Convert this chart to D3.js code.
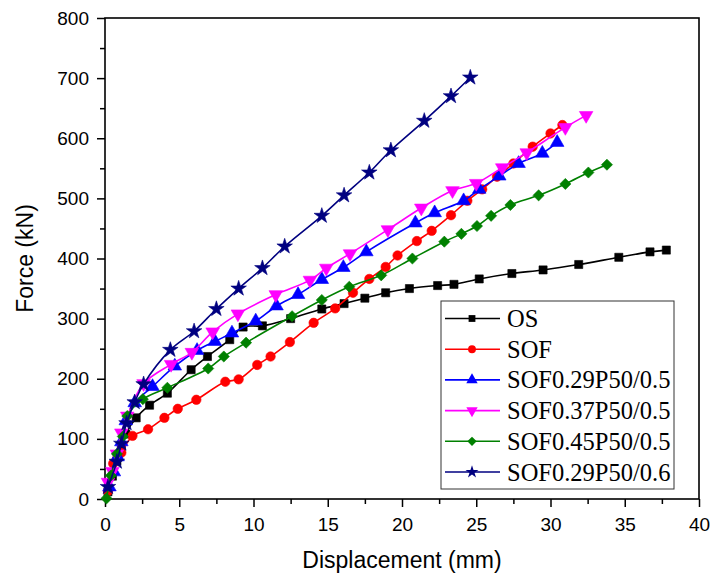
<!DOCTYPE html>
<html>
<head>
<meta charset="utf-8">
<script src="https://cdn.jsdelivr.net/npm/d3@7"></script>
<style>
  body { margin: 0; background: #fff; }
  svg { display: block; }
</style>
</head>
<body>
<svg></svg>
<script>
var svgWidth = 712, svgHeight = 575;

// data: displacement (mm) and force (kN) per specimen
var osDisp = [0.2, 0.5, 0.8, 1.1, 1.4, 2.1, 3.0, 4.2, 5.8, 6.9, 8.4, 9.3, 10.6, 12.5, 14.6, 16.1, 17.5, 18.9, 20.5, 22.4, 23.5, 25.2, 27.4, 29.5, 31.9, 34.6, 36.7, 37.8];
var osForce = [12, 38, 63, 88, 108, 135, 156, 176, 215, 237, 265, 286, 288, 300, 316, 325, 334, 343, 350, 355, 357, 366, 375, 381, 390, 402, 411, 414];

var sofDisp = [0.2, 0.55, 0.85, 1.1, 1.85, 2.9, 4.0, 4.9, 6.15, 8.1, 9.0, 10.25, 11.15, 12.45, 14.05, 15.5, 16.7, 17.8, 18.9, 19.7, 21.0, 22.0, 23.3, 24.4, 25.4, 26.4, 27.5, 28.8, 30.0, 30.8];
var sofForce = [13, 59, 70, 77, 105, 116, 135, 150, 165, 195, 199, 223, 237, 261, 293, 317, 343, 366, 386, 405, 429, 446, 472, 496, 515, 536, 558, 586, 608, 622];

var s029Disp = [0.3, 0.6, 0.85, 1.1, 1.4, 2.0, 3.2, 4.7, 6.2, 7.4, 8.55, 10.15, 11.55, 13.0, 14.6, 16.05, 17.6, 20.9, 22.2, 24.15, 25.2, 26.55, 27.85, 29.45, 30.45];
var s029Force = [20, 45, 70, 95, 130, 160, 187, 221, 247, 262, 276, 296, 321, 340, 365, 385, 411, 459, 476, 496, 515, 537, 558, 575, 593];

var s037Disp = [0.2, 0.5, 0.8, 1.1, 1.5, 2.6, 4.45, 5.85, 7.25, 8.95, 11.5, 13.8, 14.9, 16.5, 19.05, 21.3, 23.4, 25.0, 26.75, 28.4, 31.0, 32.4];
var s037Force = [28, 46, 75, 110, 138, 192, 224, 244, 278, 308, 340, 364, 384, 408, 448, 484, 513, 525, 551, 576, 618, 638];

var s045Disp = [0.1, 0.4, 0.8, 1.2, 1.5, 2.55, 4.2, 6.95, 8.0, 9.5, 12.6, 14.6, 16.45, 18.6, 20.7, 22.85, 24.0, 25.05, 26.0, 27.3, 29.2, 31.0, 32.55, 33.8];
var s045Force = [1, 39, 75, 104, 138, 166, 185, 217, 237, 260, 304, 331, 353, 372, 400, 428, 441, 454, 471, 489, 505, 524, 543, 556];

var s06Disp = [0.2, 0.8, 1.1, 1.45, 2.0, 2.6, 4.4, 6.0, 7.5, 9.0, 10.6, 12.1, 14.6, 16.1, 17.8, 19.25, 21.5, 23.3, 24.6];
var s06Force = [20, 62, 92, 126, 161, 191, 248, 279, 316, 350, 384, 420, 471, 505, 543, 580, 629, 670, 701];

var seriesNames = ["OS", "SOF", "SOF0.29P50/0.5", "SOF0.37P50/0.5", "SOF0.45P50/0.5", "SOF0.29P50/0.6"];
var seriesColors = ["#000000", "#ff0000", "#0000ff", "#ff00ff", "#008000", "#000080"];

var xTicks = [0, 5, 10, 15, 20, 25, 30, 35, 40];
var yTicks = [0, 100, 200, 300, 400, 500, 600, 700, 800];

var margin = {top: 18, right: 13, bottom: 76, left: 105};
var width = svgWidth - margin.left - margin.right,
    height = svgHeight - margin.top - margin.bottom;

var svg = d3.select("svg")
            .attr("width", svgWidth)
            .attr("height", svgHeight);

var g = svg.append("g")
           .attr("transform", "translate(" + margin.left + "," + margin.top + ")");

var x = d3.scaleLinear().domain([0, 40]).range([0, width]);
var y = d3.scaleLinear().domain([0, 800]).range([height, 0]);

// symbols for each series
var symbols = [
    {type: d3.symbolSquare, size: 66, rotate: 0},
    {type: d3.symbolCircle, size: 70, rotate: 0},
    {type: d3.symbolTriangle, size: 80, rotate: 0},
    {type: d3.symbolTriangle, size: 80, rotate: 180},
    {type: d3.symbolSquare, size: 62, rotate: 45},
    {type: d3.symbolStar, size: 75, rotate: 0}
];

var allData = [
    [osDisp, osForce], [sofDisp, sofForce], [s029Disp, s029Force],
    [s037Disp, s037Force], [s045Disp, s045Force], [s06Disp, s06Force]
].map(function(pair, i) {
    return {
        name: seriesNames[i],
        color: seriesColors[i],
        symbol: symbols[i],
        points: pair[0].map(function(d, j) { return {x: d, y: pair[1][j]}; })
    };
});

var line = d3.line()
    .x(function(d) { return x(d.x); })
    .y(function(d) { return y(d.y); })
    .curve(d3.curveCatmullRom.alpha(0.5));

// axes (ticks pointing outward)
var font = "'Liberation Sans', Arial, sans-serif";

var yMinor = d3.range(50, 800, 100);
var xMinor = d3.range(2.5, 40, 5);

g.append("g")
    .attr("transform", "translate(0," + height + ")")
    .call(d3.axisBottom(x).tickValues(xMinor).tickSize(5).tickFormat(""))
    .call(function(a) { a.select(".domain").remove(); });

g.append("g")
    .call(d3.axisLeft(y).tickValues(yMinor).tickSize(5).tickFormat(""))
    .call(function(a) { a.select(".domain").remove(); });

var xAxis = g.append("g")
    .attr("transform", "translate(0," + height + ")")
    .call(d3.axisBottom(x).tickValues(xTicks).tickSize(8).tickPadding(11).tickFormat(d3.format("d")));

var yAxis = g.append("g")
    .call(d3.axisLeft(y).tickValues(yTicks).tickSize(8).tickPadding(8).tickFormat(d3.format("d")));

[xAxis, yAxis].forEach(function(a) {
    a.selectAll("text").attr("font-family", font).attr("font-size", 19).attr("fill", "#000");
    a.select(".domain").remove();
});

g.selectAll(".tick line").attr("stroke", "#000").attr("stroke-width", 1.5);

// frame
g.append("rect")
    .attr("x", 0).attr("y", 0)
    .attr("width", width).attr("height", height)
    .attr("fill", "none")
    .attr("stroke", "#000")
    .attr("stroke-width", 1.6);

// series
var seriesG = g.selectAll(".series")
    .data(allData)
    .enter().append("g")
    .attr("class", "series");

seriesG.append("path")
    .attr("d", function(d) { return line(d.points); })
    .attr("fill", "none")
    .attr("stroke", function(d) { return d.color; })
    .attr("stroke-width", 1.6);

seriesG.each(function(s) {
    d3.select(this).selectAll("path.mark")
        .data(s.points)
        .enter().append("path")
        .attr("class", "mark")
        .attr("d", d3.symbol().type(s.symbol.type).size(s.symbol.size))
        .attr("transform", function(d) {
            return "translate(" + x(d.x) + "," + y(d.y) + ") rotate(" + s.symbol.rotate + ")";
        })
        .attr("fill", s.color)
        .attr("stroke", s.color)
        .attr("stroke-width", 0.6);
});

// axis titles
svg.append("text")
    .attr("x", margin.left + width / 2)
    .attr("y", 568)
    .attr("text-anchor", "middle")
    .attr("font-family", font)
    .attr("font-size", 23)
    .text("Displacement (mm)");

svg.append("text")
    .attr("transform", "translate(33," + (margin.top + height / 2) + ") rotate(-90)")
    .attr("text-anchor", "middle")
    .attr("font-family", font)
    .attr("font-size", 23)
    .text("Force (kN)");

// legend
var legend = svg.append("g").attr("transform", "translate(441,301)");

legend.append("rect")
    .attr("width", 233).attr("height", 188)
    .attr("fill", "#fff")
    .attr("stroke", "#333")
    .attr("stroke-width", 1);

var items = legend.selectAll(".item")
    .data(allData)
    .enter().append("g")
    .attr("class", "item")
    .attr("transform", function(d, i) { return "translate(0," + (17.5 + i * 30.7) + ")"; });

items.append("line")
    .attr("x1", 4).attr("x2", 59)
    .attr("stroke", function(d) { return d.color; })
    .attr("stroke-width", 1.6);

items.append("path")
    .attr("d", function(d) { return d3.symbol().type(d.symbol.type).size(d.symbol.size * 0.7)(); })
    .attr("transform", function(d) { return "translate(31,0) rotate(" + d.symbol.rotate + ")"; })
    .attr("fill", function(d) { return d.color; });

items.append("text")
    .attr("x", 66)
    .attr("y", 8.5)
    .attr("font-family", "'Liberation Serif', 'Times New Roman', serif")
    .attr("font-size", 24.5)
    .text(function(d) { return d.name; });
</script>
</body>
</html>
